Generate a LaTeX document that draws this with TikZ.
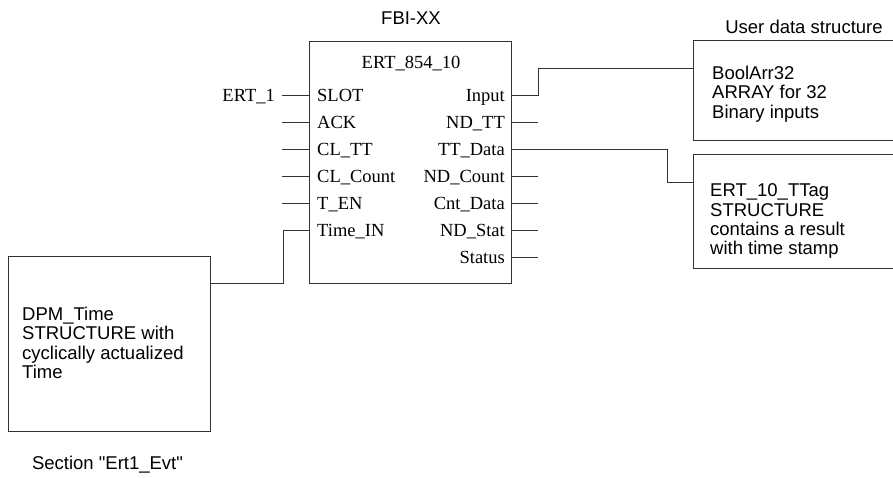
\documentclass[tikz,border=0pt]{standalone}
\usepackage{fontspec}
\setmainfont{Liberation Serif}
\newfontfamily\arialf{Liberation Sans}
\begin{document}
\begin{tikzpicture}[x=1pt,y=-1pt,
  wire/.style={draw=black!80, line width=0.8pt},
  box/.style={draw=black!80, line width=0.8pt, inner sep=0pt, anchor=north west},
  pin/.style={font=\fontsize{18.5}{20}\selectfont, inner sep=0pt},
  sans/.style={font=\arialf\fontsize{18.5}{19.3}\selectfont, align=left, inner sep=0pt}]
\clip (0,0) rectangle (893,477);
% function block
\node[box, minimum width=202pt, minimum height=242pt] (fb) at (309,41) {};
\node[pin, anchor=base] (title) at (411,68) {ERT\_854\_10};
\node[sans, anchor=base] (fbi) at (411,24) {FBI-XX};
% inputs
\foreach \t [count=\i] in {SLOT,ACK,CL\_TT,CL\_Count,T\_EN,Time\_IN} {
  \pgfmathsetmacro\yy{95+27*(\i-1)}
  \node[pin, anchor=base west] (in\i) at (317,\yy+6.5) {\t};
  \coordinate (ip\i) at (309,\yy);
  \coordinate (ie\i) at (282,\yy);
}
\foreach \i in {2,3,4,5} { \draw[wire] (ie\i) -- (ip\i); }
\node[pin, anchor=base east] (ert) at (275,101.5) {ERT\_1};
\draw[wire] (ie1) -- (ip1);
% outputs
\foreach \t [count=\i] in {Input,ND\_TT,TT\_Data,ND\_Count,Cnt\_Data,ND\_Stat,Status} {
  \pgfmathsetmacro\yy{95+27*(\i-1)}
  \node[pin, anchor=base east] (out\i) at (505,\yy+6.5) {\t};
  \coordinate (op\i) at (511,\yy);
  \coordinate (oe\i) at (538,\yy);
}
\foreach \i in {2,4,5,6,7} { \draw[wire] (op\i) -- (oe\i); }
% user data structure box
\node[sans, anchor=base] (udl) at (804,33) {User data structure};
\node[box, minimum width=220pt, minimum height=100pt] (ub) at (693,40) {};
\node[sans, anchor=north west] (ut) at (712,65.8) {BoolArr32\\ARRAY for 32\\Binary inputs};
\draw[wire] (op1) -- (oe1) |- ([yshift=-28pt]ub.north west);
% TTag box
\node[box, minimum width=220pt, minimum height=114pt] (tb) at (693,154) {};
\node[sans, anchor=north west] (tt) at (710,183.8) {ERT\_10\_TTag\\STRUCTURE\\contains a result\\with time stamp};
\draw[wire] (op3) -- ++(156,0) |- ([yshift=-28pt]tb.north west);
% DPM box
\node[box, minimum width=202pt, minimum height=175pt] (db) at (8,256) {};
\node[sans, anchor=north west] (dt) at (22,306.8) {DPM\_Time\\STRUCTURE with\\cyclically actualized\\Time};
\draw[wire] ([yshift=-27pt]db.north east) -- ++(73,0) |- (ip6);
\node[sans, anchor=base] (sec) at (107.5,469) {Section "Ert1\_Evt"};
\end{tikzpicture}
\end{document}
